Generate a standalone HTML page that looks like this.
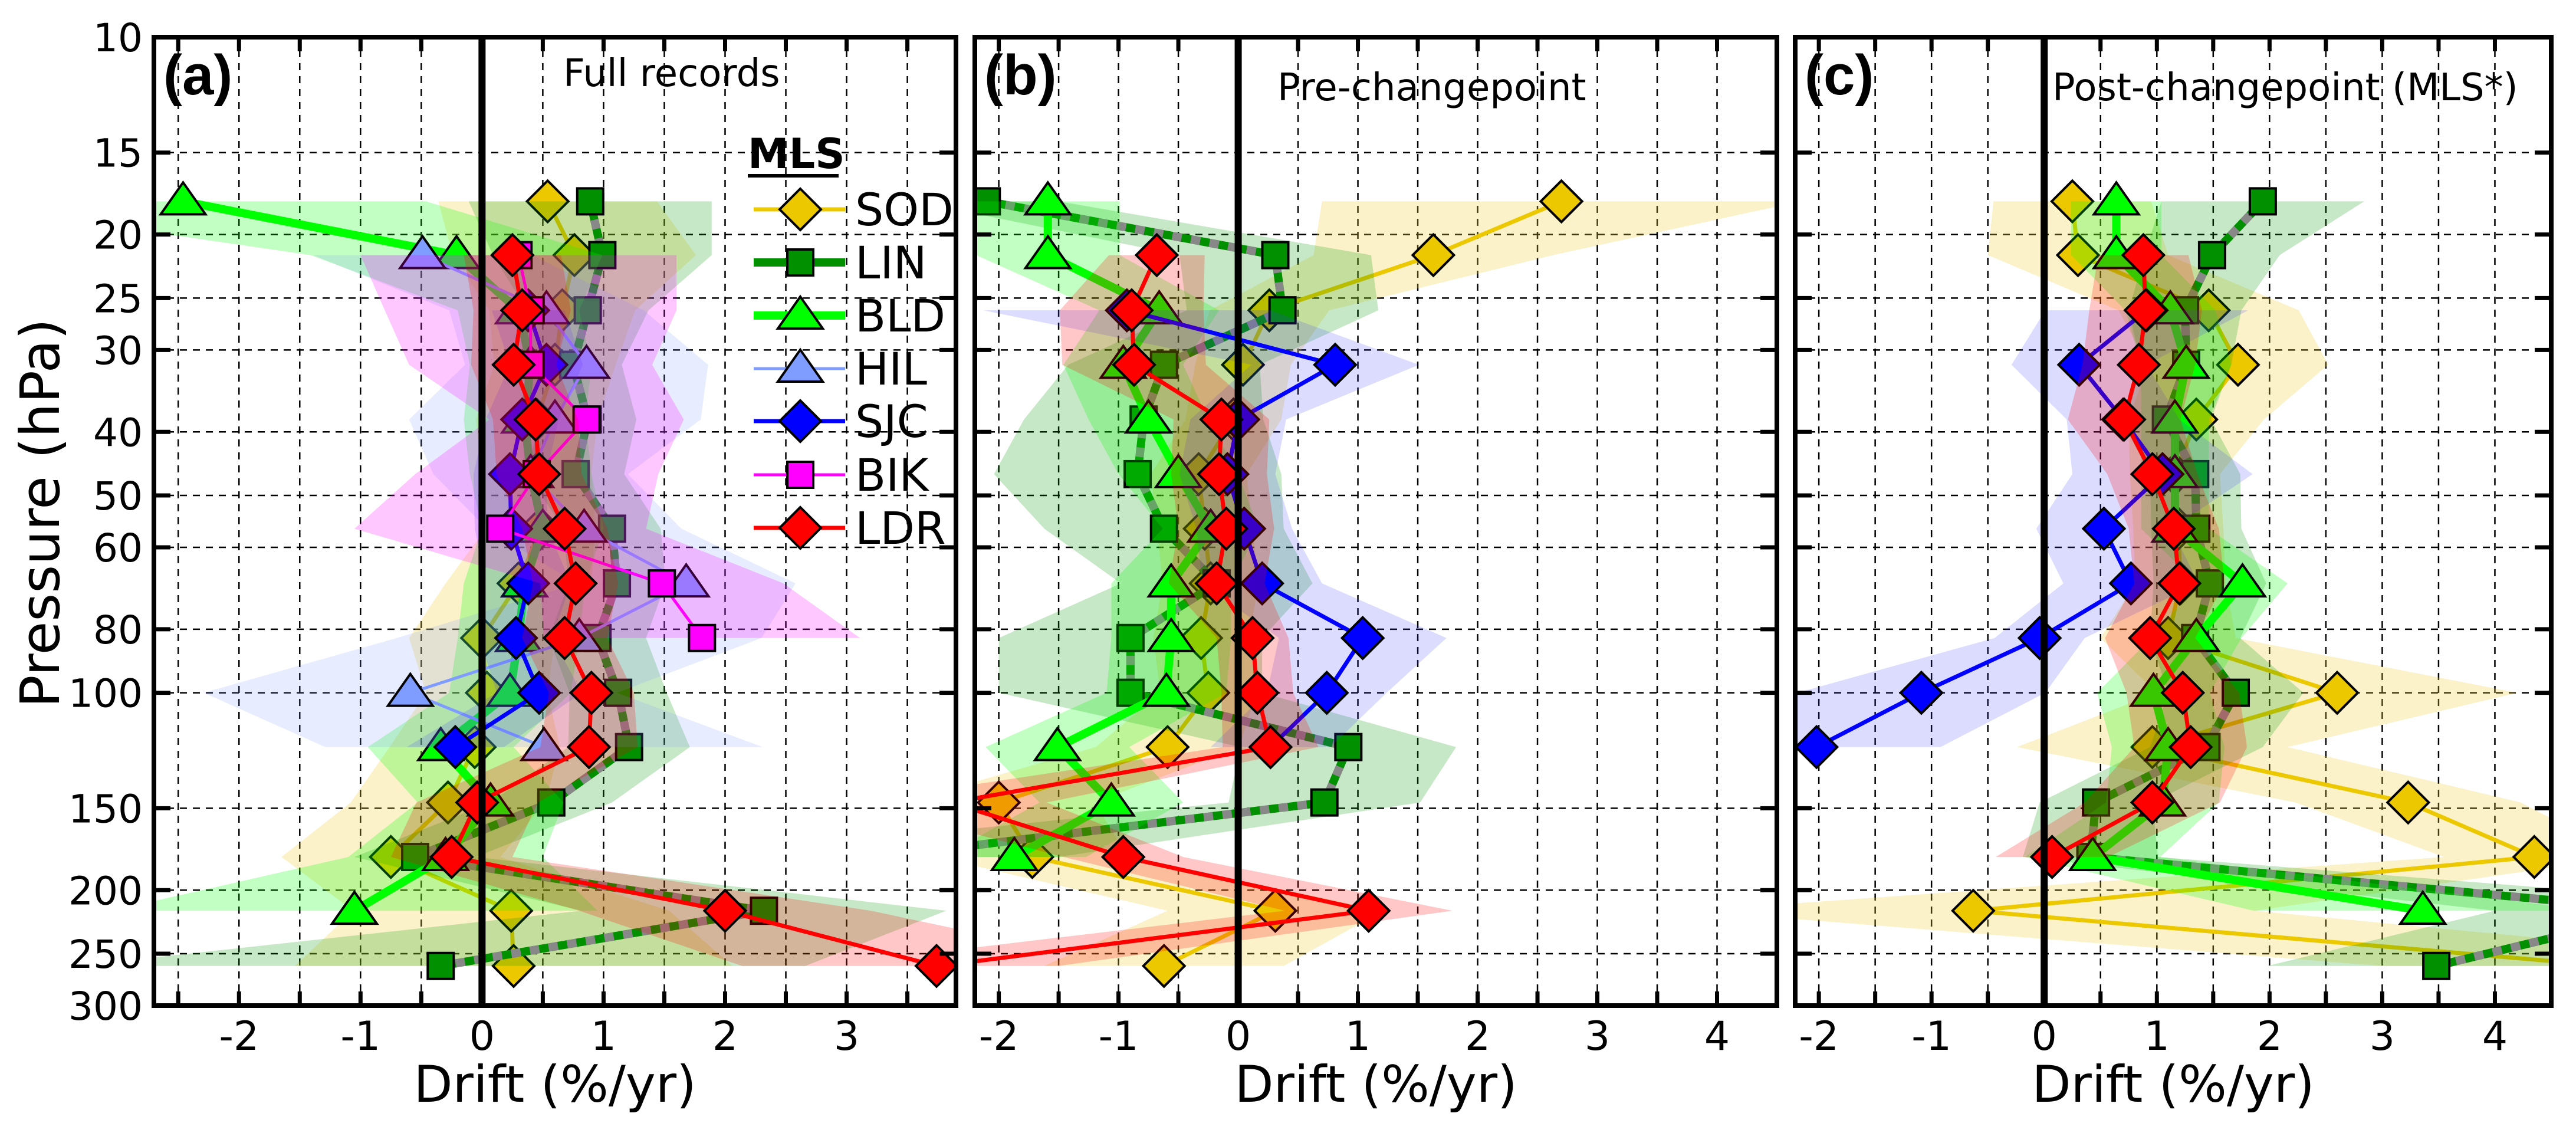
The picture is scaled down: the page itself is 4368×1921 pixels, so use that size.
<!DOCTYPE html>
<html><head><meta charset="utf-8"><style>
html,body{margin:0;padding:0;background:#fff;}
svg{display:block;font-family:"DejaVu Sans","Liberation Sans",sans-serif;}
</style></head><body>
<svg id="chart" xmlns="http://www.w3.org/2000/svg" width="4368" height="1921" viewBox="0 0 4368 1921"></svg>
<script>
// ---- data ----
const levels = [17.8,21.5,26.1,31.6,38.3,46.4,56.2,68.1,82.5,100,121,147,178,215,261];
const yTickValues = [10,15,20,25,30,40,50,60,80,100,150,200,250,300];
const yTickLabels = ["10","15","20","25","30","40","50","60","80","100","150","200","250","300"];
const xTickLabelsA = ["-2","-1","0","1","2","3"];
const xTickLabelsBC = ["-2","-1","0","1","2","3","4"];
const seriesNames = ["SOD","LIN","BLD","HIL","SJC","BIK","LDR"];

// panel a (full records)
const aSOD = [0.54,0.76,0.66,0.6,0.45,0.45,0.48,0.30,0.0,0.04,-0.06,-0.28,-0.75,0.24,0.26];
const aLIN = [0.89,0.99,0.87,0.75,0.87,0.77,1.07,1.11,0.95,1.12,1.21,0.57,-0.55,2.32,-0.34];
const aBLD = [-2.46,-0.21,0.3,0.4,0.35,0.4,0.5,0.35,0.3,0.23,-0.34,0.07,-0.3,-1.05,null];
const aHIL = [null,-0.49,0.53,0.86,0.6,0.4,0.84,1.68,0.8,-0.59,0.51,null,null,null,null];
const aSJC = [null,null,0.38,0.53,0.33,0.23,0.24,0.38,0.28,0.47,-0.22,null,null,null,null];
const aBIK = [null,0.3,0.4,0.4,0.86,0.45,0.15,1.48,1.81,null,null,null,null,null,null];
const aLDR = [null,0.25,0.33,0.26,0.44,0.47,0.68,0.77,0.68,0.90,0.88,-0.04,-0.25,2.0,3.74];
const aSODerr = [0.9,1.0,0.6,0.5,0.5,0.45,0.45,0.6,0.6,0.5,0.7,0.8,0.9,1.3,1.8];
const aLINerr = [1.0,0.9,0.5,0.4,0.4,0.4,0.4,0.4,0.4,0.4,0.5,0.5,0.5,1.5,3.0];
const aBLDerr = [2.0,1.2,0.5,0.5,0.5,0.5,0.5,0.5,0.5,0.5,0.6,0.6,0.8,2.0,null];
const aHILerr = [null,0.9,0.8,1.0,1.2,0.8,0.8,0.9,1.5,1.7,1.8,null,null,null,null];
const aSJCerr = [null,null,0.3,0.3,0.3,0.3,0.3,0.35,0.3,0.35,0.4,null,null,null,null];
const aBIKerr = [null,1.3,1.2,1.0,0.8,1.0,1.2,1.0,1.3,null,null,null,null,null,null];
const aLDRerr = [null,0.4,0.4,0.35,0.35,0.35,0.35,0.35,0.35,0.35,0.4,0.5,0.5,1.2,1.6];

// panel b (pre-changepoint)
const bSOD = [2.70,1.63,0.26,0.04,-0.04,-0.33,-0.28,-0.23,-0.31,-0.25,-0.59,-2.0,-1.72,0.31,-0.62];
const bLIN = [-2.10,0.31,0.37,-0.62,-0.79,-0.84,-0.62,-0.18,-0.90,-0.90,0.92,0.72,-3.0,null,null];
const bBLD = [-1.59,-1.59,-0.66,-0.96,-0.75,-0.50,-0.23,-0.56,-0.56,-0.60,-1.51,-1.06,-1.87,null,null];
const bSJC = [null,null,-0.93,0.81,0.0,-0.09,0.05,0.20,1.04,0.74,0.27,null,null,null,null];
const bLDR = [null,-0.68,-0.89,-0.87,-0.14,-0.16,-0.10,-0.18,0.12,0.16,0.27,-2.4,-0.96,1.09,-2.5];
const bSODerr = [2.0,1.0,0.5,0.4,0.4,0.4,0.4,0.4,0.4,0.4,0.6,0.8,0.8,0.9,1.0];
const bLINerr = [0.6,0.8,0.8,0.8,1.0,1.2,1.0,0.8,1.1,1.1,0.9,0.8,1.5,null,null];
const bBLDerr = [0.6,0.6,0.5,0.5,0.5,0.5,0.4,0.5,0.5,0.5,0.6,0.6,0.6,null,null];
const bSJCerr = [null,null,1.2,0.7,0.4,0.4,0.4,0.5,0.7,0.5,0.5,null,null,null,null];
const bLDRerr = [null,0.4,0.6,0.6,0.4,0.4,0.4,0.4,0.3,0.3,0.4,0.8,0.5,0.7,1.0];

// panel c (post-changepoint)
const cSOD = [0.25,0.30,1.46,1.72,1.35,1.16,1.19,1.21,1.10,2.60,0.96,3.23,4.35,-0.63,5.0];
const cLIN = [1.94,1.49,1.25,1.26,1.08,1.34,1.35,1.47,1.34,1.70,1.44,0.46,0.41,5.5,3.48];
const cBLD = [0.64,0.64,1.12,1.26,1.16,1.16,1.16,1.76,1.35,0.97,1.10,1.05,0.43,3.36,null];
const cSJC = [null,null,0.91,0.31,0.70,1.05,0.53,0.77,-0.04,-1.09,-2.02,null,null,null,null];
const cLDR = [null,0.88,0.90,0.84,0.71,0.96,1.15,1.20,0.94,1.23,1.30,0.96,0.07,null,null];
const cSODerr = [0.7,0.8,0.8,0.8,0.6,0.4,0.4,0.4,0.6,1.6,1.2,1.0,0.8,2.5,2.0];
const cLINerr = [0.9,0.6,0.5,0.4,0.4,0.4,0.4,0.5,0.4,0.6,0.5,0.5,0.6,1.5,1.5];
const cBLDerr = [0.4,0.4,0.4,0.4,0.3,0.3,0.3,0.4,0.4,0.5,0.5,0.5,0.6,1.5,null];
const cSJCerr = [null,null,0.9,0.6,0.5,0.8,0.6,0.6,0.4,1.1,1.1,null,null,null,null];
const cLDRerr = [null,0.4,0.5,0.5,0.5,0.4,0.4,0.4,0.4,0.5,0.5,0.6,0.5,null,null];

// ---- styles ----
const NS = "http://www.w3.org/2000/svg";
const svg = document.getElementById("chart");
const styles = {
  SOD:{color:"#ecc800",band:"rgba(240,210,60,0.28)",w:7,marker:"diamond"},
  LIN:{color:"#009000",band:"rgba(0,150,0,0.22)",w:14,marker:"square",dash:true},
  BLD:{color:"#00ff00",band:"rgba(0,255,0,0.24)",w:14,marker:"triangle"},
  HIL:{color:"#7f9cff",band:"rgba(120,150,255,0.18)",w:5,marker:"triangle"},
  SJC:{color:"#0000ff",band:"rgba(60,60,255,0.18)",w:7,marker:"diamond"},
  BIK:{color:"#ff00ff",band:"rgba(255,0,255,0.22)",w:5,marker:"square"},
  LDR:{color:"#ff0000",band:"rgba(255,0,0,0.22)",w:7,marker:"diamond"}
};
const TOP = 63, BOT = 1705;
function yScale(p){ return TOP + (BOT-TOP)*Math.log10(p/10)/Math.log10(300/10); }
function mk(tag, attrs, parent){
  const e = document.createElementNS(NS, tag);
  for (const k in attrs) e.setAttribute(k, attrs[k]);
  (parent||svg).appendChild(e);
  return e;
}

const panels = [
  {id:"a",x0:261,x1:1621,min:-2.70,max:3.90,labels:xTickLabelsA,lab:"(a)",title:"Full records",titleX:955,titleY:146,
   series:{SOD:[aSOD,aSODerr],LIN:[aLIN,aLINerr],BLD:[aBLD,aBLDerr],HIL:[aHIL,aHILerr],SJC:[aSJC,aSJCerr],BIK:[aBIK,aBIKerr],LDR:[aLDR,aLDRerr]}},
  {id:"b",x0:1653,x1:3013,min:-2.20,max:4.50,labels:xTickLabelsBC,lab:"(b)",title:"Pre-changepoint",titleX:2166,titleY:170,
   series:{SOD:[bSOD,bSODerr],LIN:[bLIN,bLINerr],BLD:[bBLD,bBLDerr],SJC:[bSJC,bSJCerr],LDR:[bLDR,bLDRerr]}},
  {id:"c",x0:3044,x1:4326,min:-2.21,max:4.50,labels:xTickLabelsBC,lab:"(c)",title:"Post-changepoint (MLS*)",titleX:3480,titleY:170,
   series:{SOD:[cSOD,cSODerr],LIN:[cLIN,cLINerr],BLD:[cBLD,cBLDerr],SJC:[cSJC,cSJCerr],LDR:[cLDR,cLDRerr]}}
];

function drawMarker(g, type, cx, cy, fill, name){
  let e;
  if (type==="diamond"){
    const r=35;
    e = mk("polygon",{points:`${cx},${cy-r} ${cx+r},${cy} ${cx},${cy+r} ${cx-r},${cy}`,fill:fill,stroke:"#000","stroke-width":4},g);
  } else if (type==="square"){
    const r=22;
    e = mk("rect",{x:cx-r,y:cy-r,width:2*r,height:2*r,fill:fill,stroke:"#000","stroke-width":4},g);
  } else {
    const r=38;
    e = mk("polygon",{points:`${cx},${cy-32} ${cx+r},${cy+22} ${cx-r},${cy+22}`,fill:fill,stroke:"#000","stroke-width":4},g);
  }
  
  
}

panels.forEach(P=>{
  const xs = v => P.x0 + (v-P.min)/(P.max-P.min)*(P.x1-P.x0);
  const g = mk("g",{});
  
  
  const defs = mk("defs",{},g);
  const cp = mk("clipPath",{id:"clip-"+P.id},defs);
  mk("rect",{x:P.x0,y:TOP,width:P.x1-P.x0,height:BOT-TOP},cp);

  const grid = mk("g",{stroke:"#000","stroke-width":2.5,"stroke-dasharray":"12 10"},g);
  
  
  for (let v=Math.ceil(P.min*2)/2; v<=P.max; v+=0.5){
    if (Math.abs(v)<1e-6) continue;
    mk("line",{x1:xs(v),x2:xs(v),y1:TOP,y2:BOT},grid);
  }
  yTickValues.forEach(p=>{ if(p>10&&p<300) mk("line",{x1:P.x0,x2:P.x1,y1:yScale(p),y2:yScale(p)},grid); });

  const dg = mk("g",{"clip-path":`url(#clip-${P.id})`},g);
  
  
  Object.keys(P.series).forEach(name=>{
    const [vals, errs] = P.series[name];
    const st = styles[name];
    const sg = mk("g",{},dg);
    
    
    const left=[], right=[];
    levels.forEach((p,i)=>{
      if (vals[i]==null || errs[i]==null) return;
      left.push([xs(vals[i]-errs[i]), yScale(p)]);
      right.push([xs(vals[i]+errs[i]), yScale(p)]);
    });
    if (left.length){
      const pts = left.concat(right.reverse()).map(q=>q.join(",")).join(" ");
      const band = mk("polygon",{points:pts,fill:st.band},sg);
      
      
    }
    const pts = [];
    levels.forEach((p,i)=>{ if (vals[i]!=null) pts.push(xs(vals[i])+","+yScale(p)); });
    const ln = mk("polyline",{points:pts.join(" "),fill:"none",stroke:st.color,"stroke-width":st.w,"stroke-linejoin":"round"},sg);
    
    
    if (st.dash){
      const dl = mk("polyline",{points:pts.join(" "),fill:"none",stroke:"#888","stroke-width":st.w,"stroke-dasharray":"16 16"},sg);
      
      
    }
    levels.forEach((p,i)=>{
      if (vals[i]==null) return;
      drawMarker(sg, st.marker, xs(vals[i]), yScale(p), st.color, 'marker-'+name.toLowerCase());
    });
  });

  const z = mk("line",{x1:xs(0),x2:xs(0),y1:TOP,y2:BOT,stroke:"#000","stroke-width":12},g);
  
  

  const tk = mk("g",{stroke:"#000","stroke-width":7},g);
  
  
  for (let v=Math.ceil(P.min*2)/2; v<=P.max; v+=0.5){
    mk("line",{x1:xs(v),x2:xs(v),y1:TOP,y2:TOP+24},tk);
    mk("line",{x1:xs(v),x2:xs(v),y1:BOT,y2:BOT-24},tk);
  }
  yTickValues.forEach(p=>{
    mk("line",{x1:P.x0,x2:P.x0+28,y1:yScale(p),y2:yScale(p)},tk);
    mk("line",{x1:P.x1,x2:P.x1-28,y1:yScale(p),y2:yScale(p)},tk);
  });
  const fr = mk("rect",{x:P.x0,y:TOP,width:P.x1-P.x0,height:BOT-TOP,fill:"none",stroke:"#000","stroke-width":8},g);
  
  

  P.labels.forEach(s=>{
    const t = mk("text",{x:xs(parseFloat(s)),y:1780,"font-size":68,"text-anchor":"middle"},g);
    t.textContent = s;
    
    
  });
  const xt = mk("text",{x:(P.x0+P.x1)/2,y:1868,"font-size":86,"text-anchor":"middle"},g);
  xt.textContent = "Drift (%/yr)";
  
  
  const pl = mk("text",{x:P.x0+16,y:160,"font-size":96,"font-weight":"bold","font-family":"Liberation Sans, sans-serif"},g);
  pl.textContent = P.lab;
  
  
  const ti = mk("text",{x:P.titleX,y:P.titleY,"font-size":64},g);
  ti.textContent = P.title;
  
  
});

yTickValues.forEach((p,i)=>{
  const t = mk("text",{x:242,y:yScale(p)+24,"font-size":66,"text-anchor":"end"});
  t.textContent = yTickLabels[i];
  
  
});
const yt = mk("text",{x:0,y:0,"font-size":92,"text-anchor":"middle",transform:"translate(100,870) rotate(-90)"});
yt.textContent = "Pressure (hPa)";



const lg = mk("g",{});


const lt = mk("text",{x:1268,y:285,"font-size":70,"font-weight":"bold"},lg);
lt.textContent = "MLS";


const ul = mk("line",{x1:1268,x2:1422,y1:298,y2:298,stroke:"#000","stroke-width":6},lg);


const legendY = [355,445,535,625,714,805,895];
seriesNames.forEach((n,i)=>{
  const st = styles[n];
  const eg = mk("g",{},lg);
  
  
  mk("line",{x1:1278,x2:1433,y1:legendY[i],y2:legendY[i],stroke:st.color,"stroke-width":st.w},eg);
  drawMarker(eg, st.marker, 1357, legendY[i], st.color, 'legend-marker-'+n.toLowerCase());
  const t = mk("text",{x:1450,y:legendY[i]+27,"font-size":76},eg);
  t.textContent = n;
  
  
});
</script>
</body></html>
